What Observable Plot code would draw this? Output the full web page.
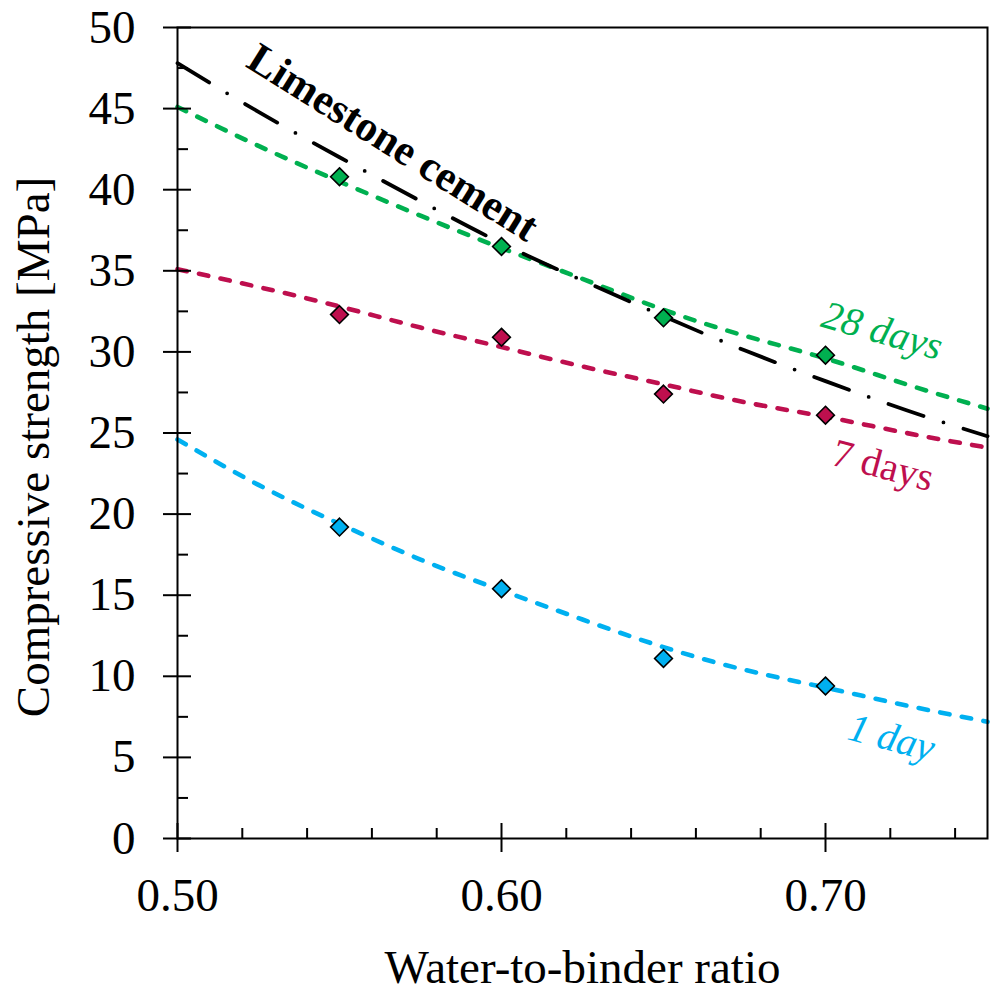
<!DOCTYPE html>
<html><head><meta charset="utf-8">
<script src="https://cdn.jsdelivr.net/npm/d3@7"></script>
<script src="https://cdn.jsdelivr.net/npm/@observablehq/plot@0.6"></script>
<style>body{margin:0;background:#fff;} svg{display:block;}</style>
</head><body><div id="chart"></div>
<script>
// measured points (water-to-binder ratio vs compressive strength, MPa)
const ratios = [0.55, 0.60, 0.65, 0.70];
const day1 = [19.2, 15.4, 11.1, 9.4];
const day7 = [32.3, 30.9, 27.4, 26.1];
const day28 = [40.8, 36.5, 32.1, 29.8];
// fitted curves
const fitX = [0.50, 0.525, 0.55, 0.575, 0.60, 0.625, 0.65, 0.675, 0.70, 0.725, 0.75];
const fit1 = [24.6, 21.8, 19.4, 17.2, 15.3, 13.5, 11.8, 10.4, 9.3, 8.2, 7.2];
const fit7 = [35.1, 34.0, 32.8, 31.5, 30.3, 29.1, 28.0, 26.9, 26.0, 25.0, 24.1];
const fit28 = [45.1, 42.7, 40.5, 38.4, 36.4, 34.5, 32.6, 31.0, 29.6, 28.0, 26.5];
const fitLimestone = [47.8, 44.8, 42.0, 39.3, 36.7, 34.4, 32.2, 30.1, 28.2, 26.4, 24.8];
// ticks
const xTicks = [0.50, 0.60, 0.70];
const xMinor = [0.52, 0.54, 0.56, 0.58, 0.62, 0.64, 0.66, 0.68, 0.72, 0.74];
const yTicks = [0, 5, 10, 15, 20, 25, 30, 35, 40, 45, 50];
const yMinor = [2.5, 7.5, 12.5, 17.5, 22.5, 27.5, 32.5, 37.5, 42.5, 47.5];
const seriesNames = ["1 day", "7 days", "28 days"];

const C1 = "#00B0F0", C7 = "#BE0F4E", C28 = "#00B050";
const FONT = "'Liberation Serif', 'Times New Roman', serif";

const pts = (ys) => ratios.map((x, i) => ({x, y: ys[i]}));
const fit = (ys) => fitX.map((x, i) => ({x, y: ys[i]}));

const dashed = (ys, color) => Plot.line(fit(ys), {x: "x", y: "y", stroke: color, strokeWidth: 4.6,
  strokeDasharray: "9.5,12.5", strokeLinecap: "round", curve: "natural"});
const diamonds = (ys, color) => Plot.dot(pts(ys), {x: "x", y: "y", symbol: "diamond2", r: 8,
  fill: color, stroke: "#000", strokeWidth: 1.6});

const chart = Plot.plot({
  width: 990, height: 995,
  marginLeft: 177, marginRight: 3, marginTop: 27, marginBottom: 157,
  x: {domain: [0.5, 0.75], axis: null},
  y: {domain: [0, 50], axis: null},
  style: {fontFamily: FONT, background: "#fff", color: "#000"},
  marks: [
    dashed(fit1, C1),
    dashed(fit7, C7),
    dashed(fit28, C28),
    Plot.line(fit(fitLimestone), {x: "x", y: "y", stroke: "#000", strokeWidth: 3.8,
      strokeDasharray: "37,21,0,21", strokeLinecap: "round", curve: "natural"}),
    diamonds(day1, C1),
    diamonds(day7, C7),
    diamonds(day28, C28),
    Plot.frame({stroke: "#000", strokeWidth: 2}),
    // ticks
    Plot.axisY(yTicks, {anchor: "left", tickSize: 28, dx: 14, text: null, label: null, strokeWidth: 2}),
    Plot.axisY(yMinor, {anchor: "left", tickSize: 11, dx: 11, text: null, label: null, strokeWidth: 2}),
    Plot.axisX(xTicks, {anchor: "bottom", tickSize: 29, dy: -15, text: null, label: null, strokeWidth: 2}),
    Plot.axisX(xMinor, {anchor: "bottom", tickSize: 10, dy: -10, text: null, label: null, strokeWidth: 2}),
    // tick labels
    Plot.text(yTicks, {y: d => d, text: d => String(d), frameAnchor: "left", dx: -42,
      textAnchor: "end", lineAnchor: "middle", fontSize: 47, fontFamily: FONT, fill: "#000"}),
    Plot.text(xTicks, {x: d => d, text: d => d3.format(".2f")(d), frameAnchor: "bottom", dy: 57,
      textAnchor: "middle", lineAnchor: "middle", fontSize: 47, fontFamily: FONT, fill: "#000"}),
    // axis titles
    Plot.text(["Water-to-binder ratio"], {text: d => d, frameAnchor: "bottom", dy: 129,
      textAnchor: "middle", lineAnchor: "middle", fontSize: 47, fontFamily: FONT, fill: "#000"}),
    Plot.text(["Compressive strength [MPa]"], {text: d => d, frameAnchor: "left", dx: -144, dy: 14,
      rotate: -90, textAnchor: "middle", lineAnchor: "middle", fontSize: 47, fontFamily: FONT, fill: "#000"}),
    // annotations
    Plot.text(["Limestone cement"], {text: d => d, x: 0.5665, y: 42.9, rotate: 32, textAnchor: "middle",
      lineAnchor: "middle", fontSize: 43, fontWeight: "bold", fontFamily: FONT, fill: "#000"}),
    Plot.text([seriesNames[2]], {text: d => d, x: 0.7175, y: 31.3, rotate: 16, textAnchor: "middle",
      lineAnchor: "middle", fontSize: 40, fontStyle: "italic", fontFamily: FONT, fill: C28}),
    Plot.text([seriesNames[1]], {text: d => d, x: 0.7177, y: 23.0, rotate: 15, textAnchor: "middle",
      lineAnchor: "middle", fontSize: 40, fontFamily: FONT, fill: C7}),
    Plot.text([seriesNames[0]], {text: d => d, x: 0.7204, y: 6.2, rotate: 15, textAnchor: "middle",
      lineAnchor: "middle", fontSize: 40, fontStyle: "italic", fontFamily: FONT, fill: C1})
  ]
});
document.getElementById("chart").appendChild(chart);
</script>
</body></html>
